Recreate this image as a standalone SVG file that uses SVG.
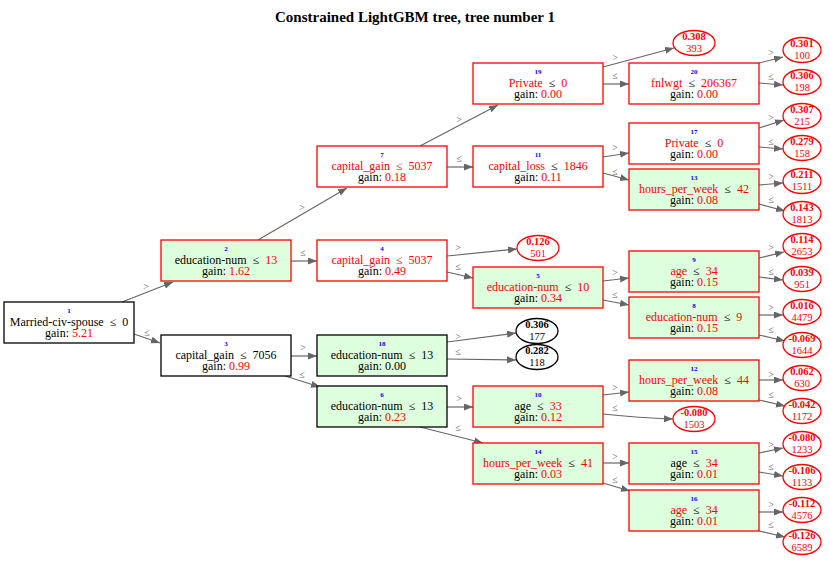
<svg xmlns="http://www.w3.org/2000/svg" width="830" height="563" viewBox="0 0 830 563">
<style>
text{font-family:"Liberation Serif","Times New Roman",serif;text-anchor:middle;fill:#000}
.title{font-size:15px;font-weight:bold}
.id{font-size:7px;font-weight:bold;fill:#0000ff}
.t{font-size:12px}
.r{fill:#ff0000}
.lv{font-size:10.5px;font-weight:bold}
.lc{font-size:10.5px}
.el{font-size:10px;fill:#666}
.nw{fill:#ffffff;stroke:#000;stroke-width:1.3}
.nwr{fill:#ffffff;stroke:#ff0000;stroke-width:1.3}
.ng{fill:#ddffdd;stroke:#000;stroke-width:1.3}
.ngr{fill:#ddffdd;stroke:#ff0000;stroke-width:1.3}
.lr{fill:#ffffff;stroke:#ff0000;stroke-width:1.3}
.lk{fill:#ffffff;stroke:#000;stroke-width:1.3}
.e{fill:none;stroke:#666;stroke-width:1.2;marker-end:url(#ah)}
</style>
<defs>
<marker id="ah" markerUnits="userSpaceOnUse" markerWidth="10" markerHeight="8" refX="9" refY="3.5" orient="auto">
<path d="M0,0 L9,3.5 L0,7 z" fill="#666"/>
</marker>
</defs>
<rect width="830" height="563" fill="#ffffff"/>
<text class="title" x="415" y="22">Constrained LightGBM tree, tree number 1</text>

<g id="connectors">
<path class="e" d="M122,302 L173,282"/><text class="el" x="146" y="290">&gt;</text>
<path class="e" d="M134,334 L160,343"/><text class="el" x="147" y="336">≤</text>
<path class="e" d="M258,240 L347,188"/><text class="el" x="302" y="211">&gt;</text>
<path class="e" d="M291,261 L317,261"/><text class="el" x="303" y="256">≤</text>
<path class="e" d="M291,356 L317,356"/><text class="el" x="303" y="351">&gt;</text>
<path class="e" d="M285,376 L320,387"/><text class="el" x="302" y="378">≤</text>
<path class="e" d="M420,146 L498,105"/><text class="el" x="459" y="123">&gt;</text>
<path class="e" d="M447,167 L473,167"/><text class="el" x="459" y="162">≤</text>
<path class="e" d="M447,256 L517,249"/><text class="el" x="458" y="251">&gt;</text>
<path class="e" d="M447,272 L473,278"/><text class="el" x="458" y="270">≤</text>
<path class="e" d="M447,342 L516,333"/><text class="el" x="458" y="340">&gt;</text>
<path class="e" d="M447,359 L516,360"/><text class="el" x="458" y="355">≤</text>
<path class="e" d="M447,407 L473,407"/><text class="el" x="459" y="402">&gt;</text>
<path class="e" d="M420,427 L483,443"/><text class="el" x="458" y="431">≤</text>
<path class="e" d="M603,67 L674,48"/><text class="el" x="615" y="61">&gt;</text>
<path class="e" d="M603,84 L629,84"/><text class="el" x="615" y="79">≤</text>
<path class="e" d="M603,157 L629,153"/><text class="el" x="615" y="151">&gt;</text>
<path class="e" d="M603,173 L629,180"/><text class="el" x="615" y="175">≤</text>
<path class="e" d="M759,63 L783,57"/><text class="el" x="771" y="56">&gt;</text>
<path class="e" d="M759,83 L783,85"/><text class="el" x="771" y="80">≤</text>
<path class="e" d="M759,128 L784,120"/><text class="el" x="771" y="121">&gt;</text>
<path class="e" d="M759,147 L783,149"/><text class="el" x="771" y="145">≤</text>
<path class="e" d="M759,185 L783,183"/><text class="el" x="771" y="180">&gt;</text>
<path class="e" d="M759,204 L785,211"/><text class="el" x="771" y="203">≤</text>
<path class="e" d="M603,281 L629,278"/><text class="el" x="615" y="276">&gt;</text>
<path class="e" d="M603,300 L629,305"/><text class="el" x="615" y="298">≤</text>
<path class="e" d="M759,258 L784,252"/><text class="el" x="771" y="251">&gt;</text>
<path class="e" d="M759,277 L783,280"/><text class="el" x="771" y="275">≤</text>
<path class="e" d="M759,315 L783,315"/><text class="el" x="771" y="311">&gt;</text>
<path class="e" d="M759,335 L785,341"/><text class="el" x="771" y="333">≤</text>
<path class="e" d="M603,395 L629,392"/><text class="el" x="615" y="391">&gt;</text>
<path class="e" d="M603,414 Q640,418 673,419"/><text class="el" x="615" y="411">≤</text>
<path class="e" d="M603,463 L629,463"/><text class="el" x="615" y="460">&gt;</text>
<path class="e" d="M603,483 L630,491"/><text class="el" x="615" y="483">≤</text>
<path class="e" d="M759,380 L783,380"/><text class="el" x="771" y="378">&gt;</text>
<path class="e" d="M759,400 L785,406"/><text class="el" x="771" y="398">≤</text>
<path class="e" d="M759,453 L783,448"/><text class="el" x="771" y="448">&gt;</text>
<path class="e" d="M759,472 L783,476"/><text class="el" x="771" y="470">≤</text>
<path class="e" d="M759,512 L783,512"/><text class="el" x="771" y="508">&gt;</text>
<path class="e" d="M759,531 L785,537"/><text class="el" x="771" y="528">≤</text>
</g>

<g id="n1"><rect class="nw" x="4" y="302" width="130" height="41"/><text class="id" x="69" y="312.5">1</text><text class="t" x="69" y="326">Married-civ-spouse &#160;≤&#160; 0</text><text class="t" x="69" y="337">gain: <tspan class="r">5.21</tspan></text></g>
<g id="n2"><rect class="ngr" x="161" y="240" width="130" height="41"/><text class="id" x="226" y="250.5">2</text><text class="t" x="226" y="264">education-num &#160;≤&#160; <tspan class="r">13</tspan></text><text class="t" x="226" y="275">gain: <tspan class="r">1.62</tspan></text></g>
<g id="n3"><rect class="nw" x="161" y="335" width="130" height="41"/><text class="id" x="226" y="345.5">3</text><text class="t" x="226" y="359">capital_gain &#160;≤&#160; 7056</text><text class="t" x="226" y="370">gain: <tspan class="r">0.99</tspan></text></g>
<g id="n7"><rect class="nwr" x="317" y="146" width="130" height="41"/><text class="id" x="382" y="156.5">7</text><text class="t r" x="382" y="170">capital_gain &#160;≤&#160; 5037</text><text class="t" x="382" y="181">gain: <tspan class="r">0.18</tspan></text></g>
<g id="n4"><rect class="nwr" x="317" y="240" width="130" height="41"/><text class="id" x="382" y="250.5">4</text><text class="t r" x="382" y="264">capital_gain &#160;≤&#160; 5037</text><text class="t" x="382" y="275">gain: <tspan class="r">0.49</tspan></text></g>
<g id="n18"><rect class="ng" x="317" y="335" width="130" height="41"/><text class="id" x="382" y="345.5">18</text><text class="t" x="382" y="359">education-num &#160;≤&#160; 13</text><text class="t" x="382" y="370">gain: 0.00</text></g>
<g id="n6"><rect class="ng" x="317" y="386" width="130" height="41"/><text class="id" x="382" y="396.5">6</text><text class="t" x="382" y="410">education-num &#160;≤&#160; 13</text><text class="t" x="382" y="421">gain: <tspan class="r">0.23</tspan></text></g>
<g id="n19"><rect class="nwr" x="473" y="63" width="130" height="41"/><text class="id" x="538" y="73.5">19</text><text class="t" x="538" y="87"><tspan class="r">Private</tspan> &#160;≤&#160; <tspan class="r">0</tspan></text><text class="t" x="538" y="98">gain: <tspan class="r">0.00</tspan></text></g>
<g id="n11"><rect class="nwr" x="473" y="146" width="130" height="41"/><text class="id" x="538" y="156.5">11</text><text class="t" x="538" y="170"><tspan class="r">capital_loss</tspan> &#160;≤&#160; <tspan class="r">1846</tspan></text><text class="t" x="538" y="181">gain: <tspan class="r">0.11</tspan></text></g>
<g id="n5"><rect class="ngr" x="473" y="267" width="130" height="41"/><text class="id" x="538" y="277.5">5</text><text class="t" x="538" y="291"><tspan class="r">education-num</tspan> &#160;≤&#160; <tspan class="r">10</tspan></text><text class="t" x="538" y="302">gain: <tspan class="r">0.34</tspan></text></g>
<g id="n10"><rect class="ngr" x="473" y="386" width="130" height="41"/><text class="id" x="538" y="396.5">10</text><text class="t" x="538" y="410">age &#160;≤&#160; <tspan class="r">33</tspan></text><text class="t" x="538" y="421">gain: <tspan class="r">0.12</tspan></text></g>
<g id="n14"><rect class="ngr" x="473" y="443" width="130" height="41"/><text class="id" x="538" y="453.5">14</text><text class="t" x="538" y="467"><tspan class="r">hours_per_week</tspan> &#160;≤&#160; <tspan class="r">41</tspan></text><text class="t" x="538" y="478">gain: <tspan class="r">0.03</tspan></text></g>
<g id="n20"><rect class="nwr" x="629" y="63" width="130" height="41"/><text class="id" x="694" y="73.5">20</text><text class="t" x="694" y="87"><tspan class="r">fnlwgt</tspan> &#160;≤&#160; <tspan class="r">206367</tspan></text><text class="t" x="694" y="98">gain: <tspan class="r">0.00</tspan></text></g>
<g id="n17"><rect class="nwr" x="629" y="123" width="130" height="41"/><text class="id" x="694" y="133.5">17</text><text class="t" x="694" y="147"><tspan class="r">Private</tspan> &#160;≤&#160; <tspan class="r">0</tspan></text><text class="t" x="694" y="158">gain: <tspan class="r">0.00</tspan></text></g>
<g id="n13"><rect class="ngr" x="629" y="169" width="130" height="41"/><text class="id" x="694" y="179.5">13</text><text class="t" x="694" y="193"><tspan class="r">hours_per_week</tspan> &#160;≤&#160; <tspan class="r">42</tspan></text><text class="t" x="694" y="204">gain: <tspan class="r">0.08</tspan></text></g>
<g id="n9"><rect class="ngr" x="629" y="251" width="130" height="41"/><text class="id" x="694" y="261.5">9</text><text class="t" x="694" y="275"><tspan class="r">age</tspan> &#160;≤&#160; <tspan class="r">34</tspan></text><text class="t" x="694" y="286">gain: <tspan class="r">0.15</tspan></text></g>
<g id="n8"><rect class="ngr" x="629" y="297" width="130" height="41"/><text class="id" x="694" y="307.5">8</text><text class="t" x="694" y="321"><tspan class="r">education-num</tspan> &#160;≤&#160; <tspan class="r">9</tspan></text><text class="t" x="694" y="332">gain: <tspan class="r">0.15</tspan></text></g>
<g id="n12"><rect class="ngr" x="629" y="360" width="130" height="41"/><text class="id" x="694" y="370.5">12</text><text class="t" x="694" y="384"><tspan class="r">hours_per_week</tspan> &#160;≤&#160; <tspan class="r">44</tspan></text><text class="t" x="694" y="395">gain: <tspan class="r">0.08</tspan></text></g>
<g id="n15"><rect class="ngr" x="629" y="443" width="130" height="41"/><text class="id" x="694" y="453.5">15</text><text class="t" x="694" y="467">age &#160;≤&#160; <tspan class="r">34</tspan></text><text class="t" x="694" y="478">gain: <tspan class="r">0.01</tspan></text></g>
<g id="n16"><rect class="ngr" x="629" y="490" width="130" height="41"/><text class="id" x="694" y="500.5">16</text><text class="t" x="694" y="514"><tspan class="r">age</tspan> &#160;≤&#160; <tspan class="r">34</tspan></text><text class="t" x="694" y="525">gain: <tspan class="r">0.01</tspan></text></g>

<g id="leaf-0308"><ellipse class="lr" cx="694" cy="43" rx="21" ry="12.5"/><text class="lv r" x="694" y="40">0.308</text><text class="lc r" x="694" y="52">393</text></g>
<g id="leaf-0126"><ellipse class="lr" cx="538" cy="248" rx="21" ry="12.5"/><text class="lv r" x="538" y="245">0.126</text><text class="lc r" x="538" y="257">501</text></g>
<g id="leaf-0306b"><ellipse class="lk" cx="537" cy="331" rx="21" ry="12.5"/><text class="lv" x="537" y="328">0.306</text><text class="lc" x="537" y="340">177</text></g>
<g id="leaf-0282"><ellipse class="lk" cx="537" cy="357" rx="21" ry="12.5"/><text class="lv" x="537" y="354">0.282</text><text class="lc" x="537" y="366">118</text></g>
<g id="leaf-m0080a"><ellipse class="lr" cx="694" cy="419" rx="21" ry="12.5"/><text class="lv r" x="694" y="416">-0.080</text><text class="lc r" x="694" y="428">1503</text></g>
<g id="leaf-0301"><ellipse class="lr" cx="802" cy="50" rx="19" ry="12.5"/><text class="lv r" x="802" y="47">0.301</text><text class="lc r" x="802" y="59">100</text></g>
<g id="leaf-0306"><ellipse class="lr" cx="802" cy="82" rx="19" ry="12.5"/><text class="lv r" x="802" y="79">0.306</text><text class="lc r" x="802" y="91">198</text></g>
<g id="leaf-0307"><ellipse class="lr" cx="802" cy="116" rx="19" ry="12.5"/><text class="lv r" x="802" y="113">0.307</text><text class="lc r" x="802" y="125">215</text></g>
<g id="leaf-0279"><ellipse class="lr" cx="802" cy="148" rx="19" ry="12.5"/><text class="lv r" x="802" y="145">0.279</text><text class="lc r" x="802" y="157">158</text></g>
<g id="leaf-0211"><ellipse class="lr" cx="802" cy="181" rx="19" ry="12.5"/><text class="lv r" x="802" y="178">0.211</text><text class="lc r" x="802" y="190">1511</text></g>
<g id="leaf-0143"><ellipse class="lr" cx="802" cy="214" rx="19" ry="12.5"/><text class="lv r" x="802" y="211">0.143</text><text class="lc r" x="802" y="223">1813</text></g>
<g id="leaf-0114"><ellipse class="lr" cx="802" cy="246" rx="19" ry="12.5"/><text class="lv r" x="802" y="243">0.114</text><text class="lc r" x="802" y="255">2653</text></g>
<g id="leaf-0039"><ellipse class="lr" cx="802" cy="279" rx="19" ry="12.5"/><text class="lv r" x="802" y="276">0.039</text><text class="lc r" x="802" y="288">951</text></g>
<g id="leaf-0016"><ellipse class="lr" cx="802" cy="312" rx="19" ry="12.5"/><text class="lv r" x="802" y="309">0.016</text><text class="lc r" x="802" y="321">4479</text></g>
<g id="leaf-m0069"><ellipse class="lr" cx="802" cy="345" rx="19" ry="12.5"/><text class="lv r" x="802" y="342">-0.069</text><text class="lc r" x="802" y="354">1644</text></g>
<g id="leaf-0062"><ellipse class="lr" cx="802" cy="378" rx="19" ry="12.5"/><text class="lv r" x="802" y="375">0.062</text><text class="lc r" x="802" y="387">630</text></g>
<g id="leaf-m0042"><ellipse class="lr" cx="802" cy="411" rx="19" ry="12.5"/><text class="lv r" x="802" y="408">-0.042</text><text class="lc r" x="802" y="420">1172</text></g>
<g id="leaf-m0080b"><ellipse class="lr" cx="802" cy="444" rx="19" ry="12.5"/><text class="lv r" x="802" y="441">-0.080</text><text class="lc r" x="802" y="453">1233</text></g>
<g id="leaf-m0106"><ellipse class="lr" cx="802" cy="477" rx="19" ry="12.5"/><text class="lv r" x="802" y="474">-0.106</text><text class="lc r" x="802" y="486">1133</text></g>
<g id="leaf-m0112"><ellipse class="lr" cx="802" cy="510" rx="19" ry="12.5"/><text class="lv r" x="802" y="507">-0.112</text><text class="lc r" x="802" y="519">4576</text></g>
<g id="leaf-m0126"><ellipse class="lr" cx="802" cy="542" rx="19" ry="12.5"/><text class="lv r" x="802" y="539">-0.126</text><text class="lc r" x="802" y="551">6589</text></g>
</svg>
